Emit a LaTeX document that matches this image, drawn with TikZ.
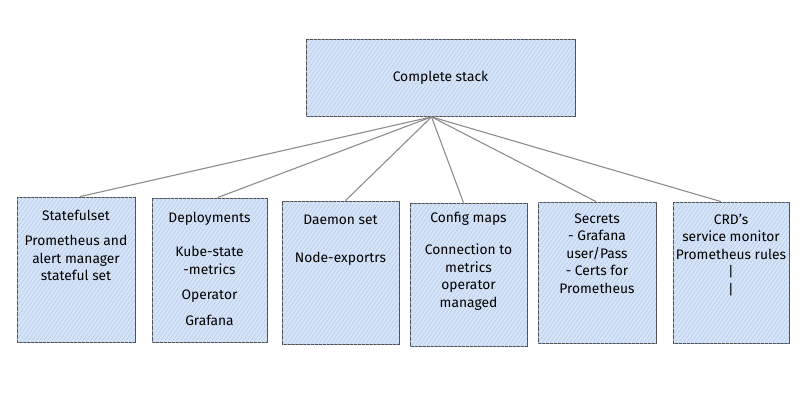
\documentclass[tikz,border=0pt]{standalone}
\usepackage{fontspec}
\setmainfont{Fira Sans}
\usetikzlibrary{patterns.meta}
\definecolor{boxfill}{RGB}{214,228,247}
\definecolor{hatch}{RGB}{178,201,236}
\definecolor{edge}{RGB}{80,80,80}
\definecolor{wire}{RGB}{140,140,140}
\tikzset{
    panel/.style={draw=edge, line width=0.8pt, fill=boxfill, postaction={pattern={Lines[angle=55, distance=3.2pt, line width=0.5pt]}, pattern color=hatch}, inner sep=0pt},
    caption/.style={anchor=north, align=center, inner sep=0pt, font=\fontsize{13.8}{17.5}\selectfont},
    wiring/.style={draw=wire, line width=1.1pt}
}
\begin{document}
\begin{tikzpicture}[x=1pt, y=-1pt]
        \useasboundingbox (0,0) rectangle (807,420);
        \node[panel, minimum width=269, minimum height=77, font=\fontsize{13.8}{17.5}\selectfont] (stack) at (440.5,78) {Complete stack};
        \node[panel, minimum width=118, minimum height=145] (sts) at (76,269.5) {};
        \node[panel, minimum width=115, minimum height=144] (dep) at (209.5,270) {};
        \node[panel, minimum width=117, minimum height=143] (dae) at (340.5,272.5) {};
        \node[panel, minimum width=117, minimum height=143] (cfg) at (468.5,274.5) {};
        \node[panel, minimum width=118, minimum height=141] (sec) at (597,272.5) {};
        \node[panel, minimum width=116, minimum height=141] (crd) at (731,272.5) {};
        \node[caption] (sts text) at ([yshift=-13]sts.north) {Statefulset\\[8pt]Prometheus and\\alert manager\\stateful set};
        \node[caption] (dep text) at ([yshift=-14]dep.north) {Deployments\\[17pt]Kube-state\\-metrics\\[8pt]Operator\\[8pt]Grafana};
        \node[caption] (dae text) at ([yshift=-14]dae.north) {Daemon set\\[21pt]Node-exportrs};
        \node[caption] (cfg text) at ([yshift=-9]cfg.north) {Config maps\\[15pt]Connection to\\metrics\\operator\\managed};
        \node[caption] (sec text) at ([yshift=-12]sec.north) {Secrets\\- Grafana\\user/Pass\\- Certs for\\Prometheus};
        \node[caption] (crd text) at ([yshift=-12]crd.north) {CRD's\\service monitor\\Prometheus rules\\|\\|};
        \coordinate (hub) at ([xshift=-9]stack.south);
        \draw[wiring] (hub) -- ([xshift=4]sts.north);
        \draw[wiring] (hub) -- ([xshift=8]dep.north);
        \draw[wiring] (hub) -- ([xshift=5]dae.north);
        \draw[wiring] (hub) -- ([xshift=-5]cfg.north);
        \draw[wiring] (hub) -- ([xshift=-1]sec.north);
        \draw[wiring] (hub) -- ([xshift=-10]crd.north);
    \end{tikzpicture}
\end{document}
